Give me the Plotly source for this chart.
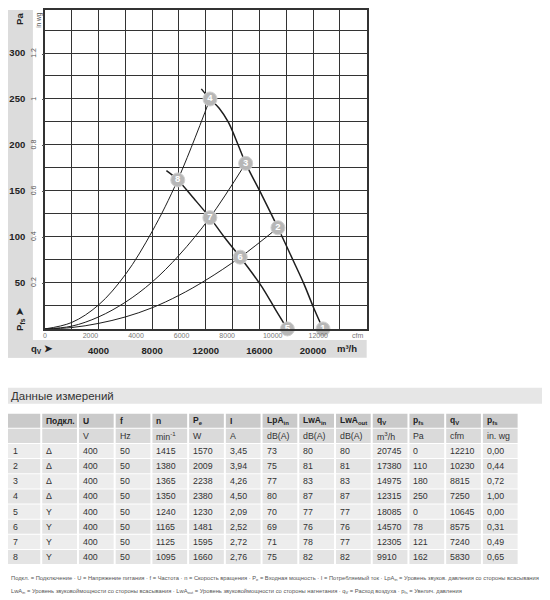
import plotly.graph_objects as go

# The page body has an 8px margin; the figure is sized to fit the window after it.
PAGE_OFF = 8
W, H = 550 - PAGE_OFF, 600 - PAGE_OFF
FONT = "Liberation Sans Narrow, Arial Narrow, Liberation Sans, Arial, sans-serif"

# ---------------- data ----------------
point_ids = [1, 2, 3, 4, 5, 6, 7, 8]
conn = ["Δ", "Δ", "Δ", "Δ", "Y", "Y", "Y", "Y"]
voltage = [400, 400, 400, 400, 400, 400, 400, 400]
freq = [50, 50, 50, 50, 50, 50, 50, 50]
speed = [1415, 1380, 1365, 1350, 1240, 1165, 1125, 1095]
power = [1570, 2009, 2238, 2380, 1230, 1481, 1595, 1660]
current = ["3,45", "3,94", "4,26", "4,50", "2,09", "2,52", "2,72", "2,76"]
lpa_in = [73, 75, 77, 80, 70, 69, 71, 75]
lwa_in = [80, 81, 83, 87, 77, 76, 78, 82]
lwa_out = [80, 81, 83, 87, 77, 76, 77, 82]
qv_m3h = [20745, 17380, 14975, 12315, 18085, 14570, 12305, 9910]
pfs_pa = [0, 110, 180, 250, 0, 78, 121, 162]
qv_cfm = [12210, 10230, 8815, 7250, 10645, 8575, 7240, 5830]
pfs_inwg = ["0,00", "0,44", "0,72", "1,00", "0,00", "0,31", "0,49", "0,65"]

# fan curves
delta_q = [11666, 12315, 13000, 13672, 14415, 14975, 16200, 17380, 18500, 19319, 19987, 20745]
delta_p = [261, 250, 240, 225, 200, 180, 145, 110, 75, 49, 25, 0]
star_q = [9065, 9910, 11100, 12305, 13375, 14570, 15500, 16350, 17200, 18085]
star_p = [172, 162, 142, 121, 100, 78, 60, 42, 21, 0]

# system curves
sysA_q = [0, 2000, 4000, 6000, 8000, 9910, 12315]
sysA_p = [0, 7, 26, 59, 106, 162, 250]
sysB_q = [0, 2000, 4000, 6000, 8000, 10000, 12305, 14975]
sysB_p = [0, 3, 13, 29, 51, 80, 121, 180]
sysC_q = [0, 2000, 4000, 6000, 8000, 10000, 12000, 14570, 17380]
sysC_p = [0, 1.5, 6, 13, 23, 36.5, 53, 78, 110]

# axis ticks
x_tickvals = [4000, 8000, 12000, 16000, 20000]
x_ticktext = ["4000", "8000", "12000", "16000", "20000"]
x_grid_step = 2000
cfm_tickvals = [0, 2000, 4000, 6000, 8000, 10000, 12000]
cfm_ticktext = ["0", "2000", "4000", "6000", "8000", "10000", "12000"]
y_tickvals = [50, 100, 150, 200, 250, 300]
y_ticktext = ["50", "100", "150", "200", "250", "300"]
y_grid_step = 25
inwg_tickvals = [0.2, 0.4, 0.6, 0.8, 1.0, 1.2]
inwg_ticktext = ["0.2", "0.4", "0.6", "0.8", "1", "1.2"]

M3H_PER_CFM = 1.699
PA_PER_INWG = 249.09
X_MAX, Y_MAX = 24000, 350

# table texts
header_vals = ["", "Подкл.", "U", "f", "n", "P<sub>e</sub>", "I", "LpA<sub>in</sub>",
               "LwA<sub>in</sub>", "LwA<sub>out</sub>", "q<sub>V</sub>", "p<sub>fs</sub>",
               "q<sub>V</sub>", "p<sub>fs</sub>"]
unit_vals = ["", "", "V", "Hz", "min<sup>-1</sup>", "W", "A", "dB(A)", "dB(A)", "dB(A)",
             "m<sup>3</sup>/h", "Pa", "cfm", "in. wg"]
table_title = "Данные измерений"
foot1 = ("Подкл. = Подключение · U = Напряжение питания · f = Частота · n = Скорость вращения · "
         "P<sub>e</sub> = Входная мощность · I = Потребляемый ток · LpA<sub>in</sub> = Уровень звуков. давления со стороны всасывания")
foot2 = ("LwA<sub>in</sub> = Уровень звуковоймощности со стороны всасывания · LwA<sub>out</sub> = "
         "Уровень звуковоймощности со стороны нагнетания · q<sub>V</sub> = Расход воздуха · p<sub>fs</sub> = Увелич. давления")

# ---------------- helpers (page pixel -> paper) ----------------
def px(x):
    return (x - PAGE_OFF) / W

def py(y):
    return 1 - (y - PAGE_OFF) / H

PLOT_L, PLOT_R, PLOT_T, PLOT_B = 43, 366, 5, 328
Y_TOP_VISIBLE = Y_MAX * (PLOT_B - PAGE_OFF) / (PLOT_B - PLOT_T)

fig = go.Figure()

LINE = "#1e1e1e"
for q, p in [(sysA_q, sysA_p), (sysB_q, sysB_p), (sysC_q, sysC_p)]:
    fig.add_trace(go.Scatter(x=q, y=p, mode="lines", line=dict(color=LINE, width=1, shape="spline"),
                             hoverinfo="skip"))
for q, p in [(delta_q, delta_p), (star_q, star_p)]:
    fig.add_trace(go.Scatter(x=q, y=p, mode="lines", line=dict(color=LINE, width=1.5, shape="spline"),
                             hoverinfo="skip"))

fig.add_trace(go.Scatter(
    x=qv_m3h, y=pfs_pa, mode="markers+text", text=[str(i) for i in point_ids],
    textposition="middle center",
    textfont=dict(color="white", size=9.5, family="Liberation Sans, Arial", weight="bold"),
    marker=dict(size=14, color="#b7b7b7", line=dict(color="#d0d0d0", width=1)),
    cliponaxis=False, hoverinfo="skip"))

GRID = dict(gridcolor="#333", gridwidth=1.1)
axis_common = dict(showline=True, mirror=True, linecolor="#333", linewidth=1.5,
                   zeroline=False, fixedrange=True, **GRID)

fig.update_layout(
    width=W, height=H, margin=dict(l=0, r=0, t=0, b=0),
    paper_bgcolor="white", plot_bgcolor="white", showlegend=False,
    font=dict(family=FONT, color="#333"),
    xaxis=dict(domain=[px(PLOT_L), px(PLOT_R)], range=[0, X_MAX], tickmode="array",
               tickvals=x_tickvals, ticktext=x_ticktext, ticks="", ticklabelstandoff=12,
               tickfont=dict(size=9.5, color="#222", weight="bold", family=FONT), anchor="y",
               minor=dict(tickmode="linear", tick0=0, dtick=x_grid_step, showgrid=True, ticks="", **GRID),
               **axis_common),
    xaxis2=dict(overlaying="x", side="bottom", anchor="y", range=[0, X_MAX / M3H_PER_CFM],
                tickmode="array", tickvals=cfm_tickvals, ticktext=cfm_ticktext, ticks="",
                showgrid=False, showline=False, zeroline=False, ticklabelstandoff=1,
                tickfont=dict(size=7, color="#777", family=FONT), fixedrange=True),
    yaxis=dict(domain=[py(PLOT_B), 1.0], range=[0, Y_TOP_VISIBLE],
               tickmode="array",
               tickvals=y_tickvals, ticktext=y_ticktext, ticks="", ticklabelstandoff=16,
               tickfont=dict(size=9.5, color="#222", weight="bold", family=FONT), anchor="x",
               minor=dict(tickmode="linear", tick0=0, dtick=y_grid_step, showgrid=True, ticks="", **GRID),
               **axis_common),
    yaxis2=dict(overlaying="y", side="left", anchor="x",
                range=[0, Y_TOP_VISIBLE / PA_PER_INWG],
                tickmode="array", tickvals=inwg_tickvals, ticktext=inwg_ticktext,
                ticks="outside", ticklen=2, tickcolor="#555", tickangle=-90,
                showgrid=False, showline=False, zeroline=False, ticklabelstandoff=3,
                tickfont=dict(size=7, color="#555", family=FONT), fixedrange=True),
)

# invisible trace to activate secondary axes
fig.add_trace(go.Scatter(x=[0], y=[0], xaxis="x2", yaxis="y2", mode="markers",
                         marker=dict(opacity=0), hoverinfo="skip"))

shapes = [
    dict(type="rect", xref="paper", yref="paper", x0=px(5), x1=px(31), y0=py(357), y1=1.0,
         fillcolor="#dcdcdc", line=dict(width=0), layer="below"),
    dict(type="rect", xref="paper", yref="paper", x0=px(5), x1=px(366), y0=py(357), y1=py(339),
         fillcolor="#dcdcdc", line=dict(width=0), layer="below"),
    dict(type="rect", xref="paper", yref="paper", x0=px(0), x1=px(550), y0=py(403), y1=py(387),
         fillcolor="#e6e6e6", line=dict(width=0), layer="below"),
]

def ann(text, x, y, size, color="#222", bold=False, angle=0, xanchor="center", family=FONT):
    fig.add_annotation(text=text, x=px(x), y=py(y), xref="paper", yref="paper",
                       showarrow=False, textangle=angle, xanchor=xanchor, yanchor="middle",
                       font=dict(size=size, color=color, family=family,
                                 weight="bold" if bold else "normal"))

# ---------------- table (cells as shapes + text) ----------------
ncols = len(header_vals)
data_cols = [
    [str(i) for i in point_ids], conn, [str(v) for v in voltage], [str(v) for v in freq],
    [str(v) for v in speed], [str(v) for v in power], current, [str(v) for v in lpa_in],
    [str(v) for v in lwa_in], [str(v) for v in lwa_out], [str(v) for v in qv_m3h],
    [str(v) for v in pfs_pa], [str(v) for v in qv_cfm], pfs_inwg,
]
rows = [header_vals, unit_vals] + [[data_cols[c][r] for c in range(ncols)] for r in range(8)]
row_fills = ["#cacaca", "#dadada"] + ["#ededed" if i % 2 == 0 else "#e4e4e4" for i in range(8)]

TBL_L, TBL_R, TBL_T, ROW_H = 3, 519, 413, 15.2
col_w = (TBL_R - TBL_L) / ncols
for r, row in enumerate(rows):
    y0 = TBL_T + r * ROW_H
    for c in range(ncols):
        x0 = TBL_L + c * col_w
        shapes.append(dict(type="rect", xref="paper", yref="paper",
                           x0=px(x0 + 0.5), x1=px(x0 + col_w - 1.5),
                           y0=py(y0 + ROW_H - 1), y1=py(y0),
                           fillcolor=row_fills[r], line=dict(width=0), layer="below"))
        if row[c]:
            ann(row[c], max(x0 + 2.5, PAGE_OFF + 1), y0 + ROW_H / 2 - 0.5, 8.8 if r > 0 else 8.5,
                color="#333" if r > 0 else "#222", bold=(r == 0), xanchor="left")

fig.update_layout(shapes=shapes)

ann("Pa", 18, 17, 9.5, bold=True, angle=-90)
ann("in wg", 37, 18, 6.5, color="#555", angle=-90)
ann("P<sub>fs</sub> ➤", 18, 318, 9.5, bold=True, angle=-90)
ann("q<sub>V</sub> ➤", 40, 348, 9.5, bold=True)
ann("cfm", 357, 335, 7, color="#777")
ann("m³/h", 346, 348, 9.5, bold=True)
ann(table_title, PAGE_OFF - 1, 395, 11.5, color="#333", xanchor="left")
ann(foot1, PAGE_OFF - 1, 578, 5.75, color="#555", xanchor="left")
ann(foot2, PAGE_OFF - 1, 591, 5.75, color="#555", xanchor="left")

fig.write_html("out.html")
